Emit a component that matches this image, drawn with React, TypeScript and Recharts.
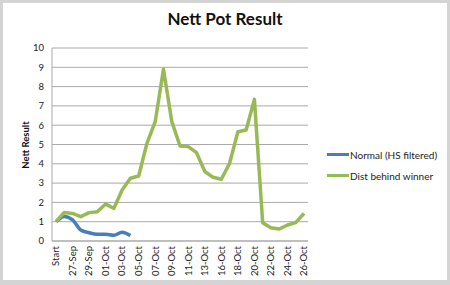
import { LineChart, Line, XAxis, YAxis, CartesianGrid } from 'recharts'

const FONT = 'Lato, "Open Sans", sans-serif'
const BLUE = '#4a7ebb'
const GREEN = '#98b954'
const GRID = '#a9a9a9'

// one category per race day; only every other one gets a visible label
const categories = [
  'Start', '26-Sep', '27-Sep', '28-Sep', '29-Sep', '30-Sep', '01-Oct', '02-Oct',
  '03-Oct', '04-Oct', '05-Oct', '06-Oct', '07-Oct', '08-Oct', '09-Oct', '10-Oct',
  '11-Oct', '12-Oct', '13-Oct', '15-Oct', '16-Oct', '17-Oct', '18-Oct', '19-Oct',
  '20-Oct', '21-Oct', '22-Oct', '23-Oct', '24-Oct', '25-Oct', '26-Oct',
]

const normalHS = [1.0, 1.27, 1.09, 0.57, 0.43, 0.35, 0.35, 0.3, 0.45, 0.28]

const distBehind = [
  1.0, 1.48, 1.43, 1.26, 1.47, 1.52, 1.92, 1.69, 2.64, 3.25, 3.37, 5.06, 6.18,
  8.9, 6.2, 4.92, 4.89, 4.58, 3.6, 3.3, 3.2, 4.03, 5.66, 5.75, 7.34, 0.95,
  0.69, 0.62, 0.83, 0.95, 1.43,
]

const yTicks = [0, 1, 2, 3, 4, 5, 6, 7, 8, 9, 10]

const data = categories.map((label, i) => ({
  label,
  normal: i < normalHS.length ? normalHS[i] : null,
  dist: distBehind[i],
}))

const legendItems = [
  { name: 'Normal (HS filtered)', color: BLUE },
  { name: 'Dist behind winner', color: GREEN },
]

// eslint-disable-next-line @typescript-eslint/no-explicit-any
function RotatedTick(props: any) {
  const { x, y, payload } = props
  return (
    <g transform={`translate(${x}, ${y - 3}) rotate(-90)`}>
      <text
        x={0}
        y={0}
        dy="0.35em"
        textAnchor="end"
        fontSize={9.5}
        fill="#222"
        fontFamily={FONT}
      >
        {payload.value}
      </text>
    </g>
  )
}

export default function App() {
  return (
    <div
      style={{
        position: 'absolute',
        left: 0,
        top: 0,
        width: 450,
        height: 285,
        background: '#d4d4d4',
      }}
    >
      <div
        style={{
          position: 'absolute',
          left: 3,
          top: 3,
          width: 444,
          height: 277,
          background: '#fff',
        }}
      />
      <div
        style={{
          position: 'absolute',
          left: 0,
          top: 8,
          width: 450,
          textAlign: 'center',
          fontFamily: FONT,
          fontWeight: 700,
          fontSize: 17,
          color: '#111',
        }}
      >
        Nett Pot Result
      </div>
      <div
        style={{
          position: 'absolute',
          left: 10,
          top: 145,
          transform: 'translate(-50%, -50%) rotate(-90deg)',
          transformOrigin: 'center',
          fontFamily: FONT,
          fontWeight: 700,
          fontSize: 9.5,
          whiteSpace: 'nowrap',
          color: '#111',
          marginLeft: 15,
        }}
      >
        Nett Result
      </div>
      <div style={{ position: 'absolute', left: 0, top: 0 }}>
        <LineChart
          width={450}
          height={285}
          data={data}
          margin={{ top: 48, right: 142, left: 22, bottom: 4 }}
        >
          <CartesianGrid stroke={GRID} vertical={false} />
          <XAxis
            dataKey="label"
            interval={1}
            padding={{ left: 4, right: 4 }}
            tick={<RotatedTick />}
            tickLine={false}
            axisLine={{ stroke: GRID }}
            height={40}
          />
          <YAxis
            domain={[0, 10]}
            ticks={yTicks}
            interval={0}
            width={30}
            tickLine={false}
            axisLine={{ stroke: GRID }}
            tick={{ fontSize: 9.5, fill: '#222', fontFamily: FONT }}
          />
          <Line
            type="monotone"
            dataKey="normal"
            stroke={BLUE}
            strokeWidth={3.5}
            strokeLinejoin="round"
            dot={false}
            connectNulls={false}
            isAnimationActive={false}
          />
          <Line
            type="linear"
            dataKey="dist"
            stroke={GREEN}
            strokeWidth={3.5}
            strokeLinejoin="round"
            dot={false}
            isAnimationActive={false}
          />
        </LineChart>
      </div>
      <div
        style={{
          position: 'absolute',
          left: 327,
          top: 144,
          fontFamily: FONT,
          fontSize: 10,
          color: '#222',
        }}
      >
        {legendItems.map((item) => (
          <div
            key={item.name}
            style={{ display: 'flex', alignItems: 'center', height: 21 }}
          >
            <span
              style={{
                display: 'inline-block',
                width: 22,
                height: 3.5,
                background: item.color,
                marginRight: 1,
              }}
            />
            <span>{item.name}</span>
          </div>
        ))}
      </div>
    </div>
  )
}
